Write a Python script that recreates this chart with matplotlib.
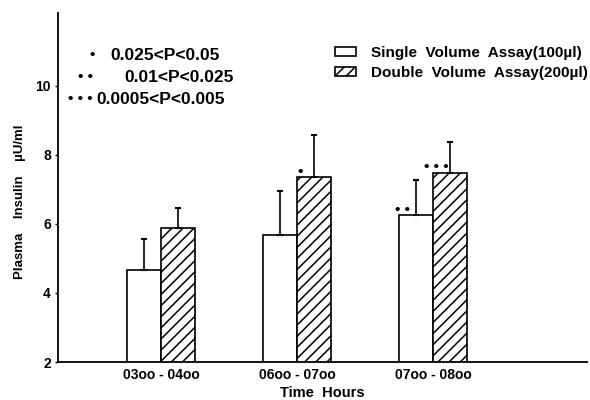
import matplotlib.pyplot as plt
import numpy as np
from matplotlib.patches import Patch

plt.rcParams["font.family"] = ["Liberation Sans", "DejaVu Sans"]
plt.rcParams["font.weight"] = "bold"
plt.rcParams["axes.labelweight"] = "bold"
plt.rcParams["hatch.linewidth"] = 1.1

# Data
periods = ["03oo - 04oo", "06oo - 07oo", "07oo - 08oo"]
single_mean = [4.67, 5.68, 6.24]
single_err = [0.90, 1.28, 1.02]
double_mean = [5.89, 7.35, 7.47]
double_err = [0.58, 1.23, 0.90]
single_sig = ["", "", "• •"]
double_sig = ["", "•", "• • •"]
sig_dots = ["•", "• •", "• • •"]
sig_ranges = ["0.025<P<0.05", "0.01<P<0.025", "0.0005<P<0.005"]

fig = plt.figure(figsize=(5.9, 4.0), dpi=100)
ax = fig.add_axes([0.098, 0.095, 0.897, 0.8725])

x = np.arange(1, len(periods) + 1)
width = 0.25

b1 = ax.bar(x - width / 2, single_mean, width, color="white",
            edgecolor="black", linewidth=1.2, zorder=2)
b2 = ax.bar(x + width / 2, double_mean, width, color="white",
            edgecolor="black", hatch="///", linewidth=1.2, zorder=2)

ax.errorbar(x - width / 2, single_mean, yerr=[np.zeros(3), single_err],
            fmt="none", ecolor="black", elinewidth=1.2, capsize=2.5, capthick=1.5, zorder=3)
ax.errorbar(x + width / 2, double_mean, yerr=[np.zeros(3), double_err],
            fmt="none", ecolor="black", elinewidth=1.2, capsize=2.5, capthick=1.5, zorder=3)

# significance dots on bars
for rect, s in zip(b1, single_sig):
    if s:
        ax.annotate(s, xy=(rect.get_x() + rect.get_width() * 0.1, rect.get_height()),
                    xytext=(0, -1), textcoords="offset points",
                    ha="center", va="bottom", fontsize=11)
for rect, s in zip(b2, double_sig):
    if s:
        ax.annotate(s, xy=(rect.get_x() + rect.get_width() * 0.1, rect.get_height()),
                    xytext=(0, -1), textcoords="offset points",
                    ha="center", va="bottom", fontsize=11)

ax.set_ylim(2, 12.1)
ax.set_xlim(0.243, 4.13)
ax.set_yticks([2, 4, 6, 8, 10])
ax.set_xticks(x)
ax.set_xticklabels(periods, fontsize=10)
ax.tick_params(axis="x", length=0, pad=4)
ax.tick_params(axis="y", length=2, width=1, pad=3, labelsize=10)
ax.spines["top"].set_visible(False)
ax.spines["right"].set_visible(False)
ax.spines["left"].set_linewidth(1.3)
ax.spines["bottom"].set_linewidth(1.3)

ax.set_xlabel("Time  Hours", fontsize=10.5, labelpad=3)
ax.set_ylabel("Plasma    Insulin    µU/ml", fontsize=9.5)
ax.yaxis.set_label_coords(-0.06, 0.458)

# P-value key, top left
dot_x = [92, 86, 80]
text_x = [110, 124, 96]
rows_y = [55, 77, 99]
for d, r, dx, tx, ry in zip(sig_dots, sig_ranges, dot_x, text_x, rows_y):
    fig.text(dx / 590, 1 - ry / 400, d, ha="center", va="center", fontsize=11)
    fig.text(tx / 590, 1 - ry / 400, r, ha="left", va="center", fontsize=12.5)

handles = [Patch(facecolor="white", edgecolor="black", linewidth=1.2),
           Patch(facecolor="white", edgecolor="black", hatch="///", linewidth=1.2)]
fig.legend(handles, ["Single  Volume  Assay(100µl)", "Double  Volume  Assay(200µl)"],
           loc="upper right", bbox_to_anchor=(0.997, 0.885), frameon=False,
           fontsize=11, borderpad=0, borderaxespad=0, handlelength=1.4,
           handleheight=0.55, handletextpad=1.0, labelspacing=0.4)

fig.savefig("out.png", dpi=100)
